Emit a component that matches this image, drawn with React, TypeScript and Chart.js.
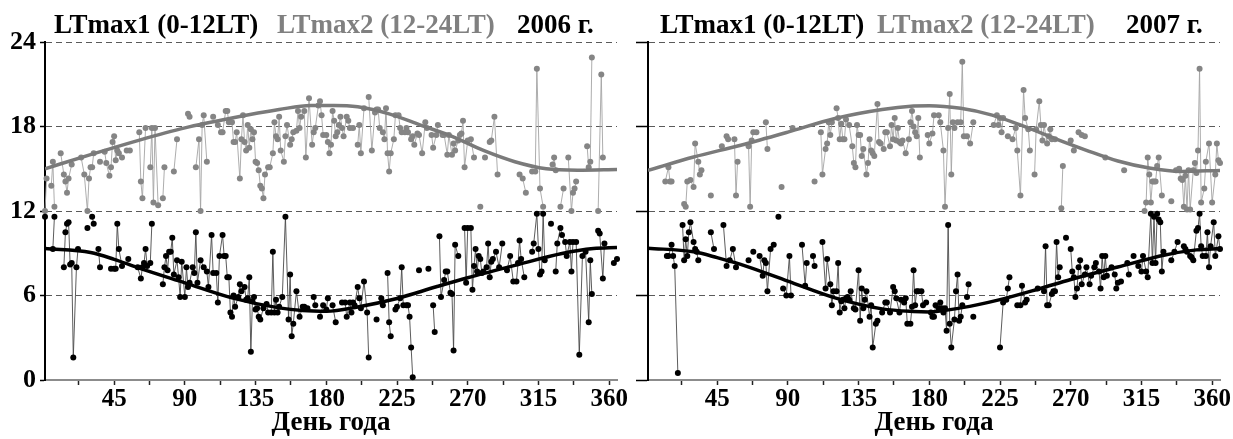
import React, { useEffect, useRef } from 'react';
import { Chart, registerables } from 'chart.js';

Chart.register(...registerables);

const SERIF = '"Liberation Serif", "Times New Roman", serif';

// ---------- axes ----------
const X_MIN = 1;
const X_MAX = 365;
const X_TICKS = [22.5, 45, 67.5, 90, 112.5, 135, 157.5, 180, 202.5, 225, 247.5, 270, 292.5, 315, 337.5, 360];
const X_TICK_LABELS = [45, 90, 135, 180, 225, 270, 315, 360];
const Y_TICKS = [0, 6, 12, 18, 24];
const X_TITLE = 'День года';

// ---------- titles ----------
const TITLE_1 = 'LTmax1 (0-12LT)';
const TITLE_2 = 'LTmax2 (12-24LT)';
const YEAR_2006 = '2006 г.';
const YEAR_2007 = '2007 г.';

// ---------- 2006: LTmax2 (12-24 LT), grey [day, hour] ----------
const G2006 = [
  [1,12.0],[2,14.3],[5,13.8],[6,15.5],[7,12.3],[11,16.1],[13,14.6],[14,14.1],[15,13.3],[16,14.3],[18,15.3],
  [24,15.8],[26,14.6],[28,12.0],[29,14.3],[30,15.1],[31,15.1],[32,16.1],[36,15.5],[39,16.2],[40,15.4],[42,14.5],
  [43,15.1],[44,16.9],[45,17.3],[46,15.6],[47,16.3],[48,16.1],[50,15.8],[53,16.3],[55,16.3],[61,17.6],[62,14.1],
  [63,12.9],[65,17.9],[68,15.1],[69,17.9],[70,12.6],[71,17.9],[73,12.4],[76,12.9],[77,15.1],[83,14.8],[85,17.1],
  [92,18.9],[93,18.7],[97,15.1],[99,17.1],[100,12.0],[101,18.1],[102,18.8],[104,15.5],[108,18.7],[111,18.1],
  [113,17.6],[114,17.6],[116,19.1],[117,19.1],[118,18.3],[120,18.3],[121,16.9],[122,16.9],[123,17.6],[125,14.3],
  [126,17.1],[127,18.8],[128,16.9],[129,16.3],[130,18.1],[131,16.5],[132,17.8],[133,17.1],[134,17.6],[135,15.5],
  [136,15.4],[137,14.9],[138,13.8],[139,13.6],[140,12.9],[141,14.6],[143,15.1],[144,15.1],[146,16.1],[147,18.3],
  [148,17.3],[149,17.1],[150,18.7],[151,16.3],[153,15.5],[154,17.3],[155,18.1],[157,16.7],[158,17.1],[159,17.6],
  [161,17.7],[162,19.1],[163,17.9],[164,18.7],[166,19.1],[167,15.8],[169,20.0],[171,16.7],[172,17.6],[173,17.9],
  [175,19.5],[176,19.8],[177,18.8],[178,17.4],[180,17.4],[181,16.9],[182,16.1],[183,16.7],[184,19.1],[185,18.4],
  [186,17.3],[187,17.6],[188,18.1],[189,18.7],[190,17.9],[191,17.3],[193,18.7],[194,18.4],[195,17.9],[197,17.9],
  [200,16.7],[201,18.1],[202,16.1],[204,19.3],[207,20.1],[209,16.3],[211,19.0],[212,19.2],[213,19.2],[214,17.9],
  [216,17.6],[217,17.1],[218,19.3],[219,16.1],[220,14.8],[221,16.1],[223,17.1],[224,18.8],[226,18.8],[227,17.9],
  [228,17.6],[230,17.6],[231,17.9],[232,17.6],[234,17.1],[235,17.3],[236,16.7],[238,17.5],[239,17.4],[241,16.1],
  [243,18.3],[244,17.9],[247,17.4],[248,16.5],[250,17.4],[251,18.1],[254,17.4],[255,17.4],[257,16.0],[258,17.4],
  [260,16.0],[261,16.8],[262,16.3],[264,17.0],[265,17.4],[266,17.5],[267,18.4],[268,15.1],[270,17.0],[272,17.1],
  [274,15.8],[278,12.3],[281,15.8],[284,16.9],[285,17.0],[287,18.7],[289,14.6],[303,14.6],[305,14.3],[307,13.3],
  [311,14.8],[313,14.8],[314,22.1],[316,13.6],[318,12.3],[324,15.3],[325,15.8],[326,14.9],[329,12.3],[331,13.6],
  [334,15.8],[336,12.0],[337,13.3],[338,13.6],[339,14.1],[346,16.6],[347,15.1],[348,15.5],[349,22.9],[353,12.0],
  [355,21.7],[356,15.8],
];

// ---------- 2006: LTmax1 (0-12 LT), black ----------
const B2006 = [
  [1,11.6],[6,9.3],[7,11.6],[13,8.0],[14,10.5],[15,11.1],[16,11.2],[17,8.2],[18,8.3],[19,1.6],[21,8.0],[22,9.3],
  [28,10.8],[31,11.6],[32,11.1],[35,9.3],[36,8.0],[43,7.9],[45,7.9],[46,7.9],[47,11.1],[48,9.3],[50,8.1],[54,8.6],
  [60,8.0],[62,7.2],[63,8.0],[64,8.3],[65,9.3],[66,8.1],[68,8.3],[69,11.1],[76,6.8],[77,8.0],[78,8.8],[79,7.8],
  [80,9.1],[81,9.1],[82,10.1],[83,7.5],[85,8.5],[86,7.3],[87,5.9],[88,8.4],[90,5.9],[91,8.0],[92,6.6],[93,6.9],
  [95,8.0],[96,7.6],[97,10.5],[98,6.9],[100,8.5],[102,8.0],[104,7.7],[105,6.6],[107,10.3],[108,7.6],[110,7.6],
  [111,5.5],[112,8.8],[114,10.3],[115,8.8],[116,8.8],[117,7.3],[118,7.3],[119,4.8],[120,4.5],[121,6.0],[122,5.2],
  [124,5.9],[125,6.8],[126,6.3],[128,6.6],[129,5.7],[130,5.8],[131,7.3],[132,2.0],[133,5.6],[134,5.9],[135,5.0],
  [136,5.1],[137,4.5],[138,4.3],[140,5.1],[142,5.4],[143,4.8],[145,4.8],[146,9.1],[147,4.8],[148,5.7],[149,4.8],
  [150,5.2],[152,5.9],[154,11.6],[156,4.3],[157,7.5],[158,3.1],[159,4.0],[161,6.3],[163,4.5],[165,5.2],[166,5.2],
  [168,5.1],[172,5.9],[173,5.3],[176,4.5],[178,5.3],[180,5.0],[181,5.8],[184,5.3],[186,4.1],[190,5.5],[192,5.5],
  [193,4.5],[195,5.5],[196,4.8],[197,5.5],[198,5.3],[200,6.6],[201,5.8],[202,5.1],[204,7.0],[206,4.8],[207,1.6],
  [212,4.3],[215,5.8],[216,5.3],[219,7.6],[220,4.1],[221,3.1],[224,5.0],[225,5.2],[227,5.8],[228,8.0],[229,5.3],
  [231,5.3],[232,5.3],[233,4.5],[234,2.3],[235,0.2],[239,7.8],[245,7.9],[248,5.3],[249,3.4],[252,10.2],[253,5.9],
  [255,7.1],[256,7.7],[257,7.7],[259,6.2],[260,6.1],[261,2.1],[262,9.6],[264,8.8],[268,10.8],[269,6.9],[270,10.8],
  [272,10.8],[273,6.4],[274,8.1],[275,9.3],[276,7.7],[277,8.8],[278,8.6],[279,7.6],[280,7.7],[282,8.0],[283,9.7],
  [284,7.3],[285,8.4],[286,8.6],[288,9.1],[290,8.0],[292,9.7],[295,7.8],[297,8.8],[299,7.0],[301,7.0],[302,8.3],
  [303,9.9],[304,8.6],[306,7.3],[311,9.1],[312,9.7],[314,11.8],[315,9.3],[316,7.5],[317,7.7],[318,11.8],[319,8.5],
  [323,11.1],[326,7.7],[327,9.7],[329,10.8],[330,10.3],[332,9.8],[333,8.8],[335,9.8],[336,7.7],[337,9.8],[339,9.8],
  [341,1.8],[343,8.8],[345,9.1],[347,4.1],[348,8.5],[349,6.1],[353,10.6],[354,10.4],[356,7.2],[357,9.7],[363,8.3],
  [365,8.6],
];

// ---------- 2007: LTmax2 (12-24 LT), grey ----------
const G2007 = [
  [12,14.1],[14,15.1],[15,14.1],[16,14.1],[24,12.5],[25,12.3],[26,14.1],[28,14.2],[30,13.7],[31,16.8],[33,15.5],
  [34,14.6],[35,14.9],[41,13.1],[48,16.6],[51,17.3],[52,17.1],[56,17.1],[57,13.1],[58,15.5],[65,16.6],[66,12.3],
  [67,17.0],[68,17.6],[70,17.6],[76,18.3],[77,16.4],[86,13.7],[93,17.9],[107,14.1],[111,17.6],[112,14.6],[114,16.4],
  [115,16.8],[116,18.3],[117,17.4],[118,18.3],[121,19.3],[122,18.6],[123,17.1],[124,18.2],[125,17.1],[126,17.1],
  [127,18.5],[129,18.1],[131,16.6],[132,15.4],[133,15.1],[134,18.1],[135,17.4],[136,17.4],[137,15.9],[138,16.4],
  [140,14.6],[141,15.4],[142,17.1],[143,16.3],[144,16.1],[145,15.9],[147,19.6],[148,16.9],[149,16.8],[151,16.4],
  [152,17.6],[153,17.6],[155,16.6],[156,18.1],[157,17.1],[158,18.6],[159,17.0],[160,17.9],[161,16.9],[162,16.8],
  [163,17.0],[165,16.1],[167,17.1],[168,18.3],[169,19.1],[170,18.0],[171,17.6],[172,17.3],[173,18.6],[174,15.8],
  [179,17.4],[180,16.8],[182,17.5],[183,18.8],[186,18.8],[187,18.3],[189,16.3],[190,12.3],[192,17.9],[193,20.3],
  [194,14.6],[195,18.3],[196,17.9],[198,18.3],[200,18.3],[201,22.6],[202,17.3],[204,17.3],[206,16.8],[208,18.3],
  [221,18.1],[223,18.8],[224,18.1],[225,18.6],[226,17.6],[227,18.6],[230,17.3],[233,17.1],[235,17.9],[236,16.3],
  [238,13.1],[240,20.6],[241,18.6],[243,17.8],[244,16.3],[247,14.6],[248,17.8],[250,19.8],[251,18.1],[252,17.0],
  [253,18.1],[255,16.8],[256,17.3],[257,17.8],[258,17.1],[260,17.1],[264,12.2],[265,15.2],[270,17.0],[272,16.3],
  [275,17.6],[277,17.4],[279,17.3],[292,15.8],[304,14.9],[317,12.0],[318,12.6],[319,15.8],[320,14.6],[321,12.6],
  [322,14.1],[323,14.1],[324,14.1],[325,15.2],[326,15.8],[328,13.1],[334,12.7],[337,14.9],[339,15.0],[340,14.3],
  [341,14.2],[342,12.3],[343,14.5],[344,12.1],[345,14.9],[346,12.1],[348,14.9],[349,15.4],[350,14.7],[351,16.3],
  [352,22.1],[353,12.6],[355,13.6],[356,15.5],[358,16.8],[360,12.6],[362,14.6],[363,16.8],[364,15.6],[365,15.4],
];

// ---------- 2007: LTmax1 (0-12 LT), black ----------
const B2007 = [
  [13,8.8],[14,8.8],[16,9.6],[17,8.8],[18,8.1],[20,0.5],[23,11.0],[24,8.5],[25,10.0],[26,8.8],[27,10.5],[28,11.2],
  [30,9.8],[31,9.3],[32,9.1],[33,8.5],[41,10.5],[43,9.3],[49,11.0],[51,8.1],[53,8.5],[55,9.3],[57,8.0],[65,8.5],
  [68,9.1],[72,8.8],[74,7.4],[75,8.5],[76,8.3],[77,6.3],[79,9.3],[81,9.6],[84,11.6],[87,6.5],[89,6.0],[91,8.8],
  [92,6.0],[99,9.6],[101,6.7],[102,8.3],[106,8.8],[107,8.1],[112,9.8],[114,6.5],[115,8.6],[117,6.8],[118,5.3],
  [119,6.3],[121,6.3],[122,8.3],[123,4.8],[124,5.6],[125,5.7],[126,5.1],[127,5.8],[128,5.9],[129,5.7],[130,6.3],
  [132,5.1],[133,5.0],[135,7.8],[136,4.2],[137,6.5],[138,5.1],[139,5.7],[140,6.3],[142,4.5],[143,5.3],[144,2.3],
  [146,4.0],[147,4.2],[150,4.8],[152,5.5],[153,5.5],[155,4.8],[157,6.6],[158,6.3],[159,5.8],[161,4.8],[162,5.7],
  [164,5.5],[165,5.8],[166,4.0],[168,4.0],[169,5.2],[170,7.8],[171,5.3],[172,6.3],[173,6.3],[175,6.3],[176,5.3],
  [178,5.5],[181,4.8],[182,4.5],[183,4.5],[184,5.3],[186,5.1],[187,5.5],[188,5.1],[189,4.8],[190,5.1],[191,3.5],
  [192,11.0],[193,4.0],[194,2.3],[196,4.3],[197,6.3],[198,7.5],[199,4.2],[200,4.5],[201,5.3],[204,5.9],[205,6.8],
  [208,4.5],[225,2.3],[227,5.5],[229,5.7],[230,6.5],[231,7.3],[236,5.3],[238,5.3],[239,6.7],[241,5.5],[242,5.7],
  [249,6.5],[253,6.3],[254,9.5],[255,5.3],[256,5.3],[258,6.1],[259,6.3],[260,6.3],[261,9.8],[262,7.3],[263,8.0],
  [267,10.1],[270,9.3],[271,7.7],[272,7.3],[273,5.9],[274,6.5],[275,8.0],[276,8.5],[277,6.8],[279,7.5],[280,8.0],
  [282,6.8],[283,7.4],[285,8.0],[286,8.3],[288,7.7],[289,6.5],[290,8.8],[291,7.3],[292,8.8],[293,7.4],[296,8.0],
  [298,7.5],[299,6.5],[300,6.9],[302,7.0],[306,8.3],[307,7.5],[310,8.8],[313,8.1],[315,7.7],[316,8.8],[318,7.7],
  [319,7.3],[321,11.8],[322,8.3],[323,11.6],[324,8.3],[325,11.8],[326,11.4],[327,11.2],[328,7.7],[329,9.1],
  [334,8.5],[336,9.1],[338,9.8],[342,9.5],[343,9.3],[344,9.1],[346,8.8],[347,8.7],[348,8.5],[350,10.6],[351,10.8],
  [352,11.8],[353,9.5],[354,8.8],[356,8.8],[357,10.5],[358,8.0],[359,9.5],[361,11.2],[362,8.8],[364,10.2],[365,9.3],
];

// ---------- fitted curves ----------
const FIT_G2006 = [[1,15.0],[30,16.0],[60,17.0],[90,17.9],[120,18.6],[150,19.2],[170,19.5],[185,19.5],[200,19.4],[220,18.9],[240,18.1],[260,17.3],[280,16.3],[300,15.5],[320,15.0],[340,14.9],[365,14.95]];
const FIT_B2006 = [[1,9.33],[30,9.05],[45,8.57],[60,7.98],[90,6.9],[120,5.83],[150,5.12],[165,4.93],[180,4.88],[200,5.19],[225,5.79],[250,6.62],[270,7.26],[300,8.14],[330,8.98],[350,9.33],[365,9.4]];
const FIT_G2007 = [[1,14.88],[30,15.83],[60,16.67],[90,17.6],[120,18.57],[150,19.21],[170,19.45],[180,19.48],[200,19.29],[220,18.81],[240,18.02],[260,17.14],[280,16.31],[300,15.55],[320,15.05],[340,14.81],[365,14.88]];
const FIT_B2007 = [[1,9.36],[30,9.1],[45,8.69],[60,8.21],[90,7.02],[120,5.83],[150,5.05],[170,4.86],[180,4.83],[200,5.12],[225,5.71],[250,6.48],[270,7.14],[300,8.02],[330,8.88],[350,9.24],[365,9.33]];

const MAX_GAP = 2;

function toPoints(pairs: number[][], breakGaps: boolean) {
  const sorted = [...pairs].sort((a, b) => a[0] - b[0]);
  const out: { x: number; y: number | null }[] = [];
  sorted.forEach((p, i) => {
    if (breakGaps && i > 0 && p[0] - sorted[i - 1][0] > MAX_GAP) {
      out.push({ x: (p[0] + sorted[i - 1][0]) / 2, y: null });
    }
    out.push({ x: p[0], y: p[1] });
  });
  return out;
}

type PanelProps = {
  grey: number[][];
  black: number[][];
  fitGrey: number[][];
  fitBlack: number[][];
  width: number;
  yAxisWidth: number;
  showYLabels: boolean;
  yTickLength: number;
};

function Panel(props: PanelProps) {
  const ref = useRef<HTMLCanvasElement | null>(null);
  useEffect(() => {
    if (!ref.current) return;
    const chart = new Chart(ref.current, {
      type: 'line',
      data: {
        datasets: [
          {
            label: 'fit LTmax1',
            data: toPoints(props.fitBlack, false),
            borderColor: '#000',
            borderWidth: 3.5,
            pointRadius: 0,
            cubicInterpolationMode: 'monotone',
            order: 0,
          },
          {
            label: 'fit LTmax2',
            data: toPoints(props.fitGrey, false),
            borderColor: '#7a7a7a',
            borderWidth: 3.5,
            pointRadius: 0,
            cubicInterpolationMode: 'monotone',
            order: 1,
          },
          {
            label: 'LTmax1',
            data: toPoints(props.black, true),
            borderColor: '#4a4a4a',
            borderWidth: 0.9,
            pointRadius: 3,
            pointBorderWidth: 0,
            pointBackgroundColor: '#000',
            spanGaps: false,
            clip: 6,
            order: 2,
          },
          {
            label: 'LTmax2',
            data: toPoints(props.grey, true),
            borderColor: '#a4a4a4',
            borderWidth: 0.9,
            pointRadius: 3,
            pointBorderWidth: 0,
            pointBackgroundColor: '#858585',
            spanGaps: false,
            clip: 6,
            order: 3,
          },
        ] as any,
      },
      options: {
        animation: false,
        responsive: false,
        events: [],
        layout: { padding: { top: 42, right: 13, left: 0, bottom: 0 } },
        plugins: {
          legend: { display: false },
          tooltip: { enabled: false },
          title: { display: false },
        },
        scales: {
          x: {
            type: 'linear',
            min: X_MIN,
            max: X_MAX,
            afterBuildTicks: (s: any) => {
              s.ticks = X_TICKS.map((v) => ({ value: v }));
            },
            afterFit: (s: any) => {
              s.height = 59;
            },
            ticks: {
              autoSkip: false,
              maxRotation: 0,
              padding: 0,
              color: '#000',
              font: { family: SERIF, size: 25, weight: 'bold' },
              callback: (v: any) => (X_TICK_LABELS.includes(Number(v)) ? String(v) : ''),
            },
            grid: {
              display: true,
              drawOnChartArea: false,
              drawTicks: true,
              tickLength: 5,
              tickColor: '#222',
              tickWidth: 1.5,
              color: '#222',
            },
            border: { display: true, color: '#8c8c8c', width: 2 },
            title: {
              display: true,
              text: X_TITLE,
              color: '#000',
              padding: 0,
              font: { family: SERIF, size: 27, weight: 'bold', lineHeight: 1.2 },
            },
          },
          y: {
            type: 'linear',
            min: 0,
            max: 24,
            afterBuildTicks: (s: any) => {
              s.ticks = Y_TICKS.map((v) => ({ value: v }));
            },
            afterFit: (s: any) => {
              s.width = props.yAxisWidth;
            },
            ticks: {
              display: props.showYLabels,
              padding: 4,
              color: '#000',
              font: { family: SERIF, size: 26, weight: 'bold' },
            },
            grid: {
              display: true,
              drawOnChartArea: true,
              drawTicks: true,
              tickLength: props.yTickLength,
              color: '#5a5a5a',
              lineWidth: 1,
              tickColor: '#000',
              tickWidth: 1.5,
            },
            border: { display: true, color: '#000', width: 2, dash: [6, 4] },
          },
        },
      } as any,
    });
    return () => chart.destroy();
  }, []);
  return <canvas ref={ref} width={props.width} height={439} style={{ display: 'block', width: props.width, height: 439 }} />;
}

const titleBase: React.CSSProperties = {
  position: 'absolute',
  top: 11,
  fontFamily: SERIF,
  fontWeight: 'bold',
  fontSize: 27,
  lineHeight: '27px',
  whiteSpace: 'nowrap',
};

export default function App() {
  return (
    <div style={{ position: 'absolute', left: 0, top: 0, width: 1233, height: 439, background: '#fff', overflow: 'hidden' }}>
      <div style={{ position: 'absolute', left: 0, top: 0 }}>
        <Panel grey={G2006} black={B2006} fitGrey={FIT_G2006} fitBlack={FIT_B2006} width={630} yAxisWidth={45} showYLabels={true} yTickLength={5} />
      </div>
      <div style={{ position: 'absolute', left: 630, top: 0 }}>
        <Panel grey={G2007} black={B2007} fitGrey={FIT_G2007} fitBlack={FIT_B2007} width={603} yAxisWidth={18} showYLabels={false} yTickLength={12} />
      </div>
      <span style={{ ...titleBase, left: 54, color: '#000' }}>{TITLE_1}</span>
      <span style={{ ...titleBase, left: 277, color: '#808080' }}>{TITLE_2}</span>
      <span style={{ ...titleBase, left: 517, color: '#000' }}>{YEAR_2006}</span>
      <span style={{ ...titleBase, left: 660, color: '#000' }}>{TITLE_1}</span>
      <span style={{ ...titleBase, left: 877, color: '#808080' }}>{TITLE_2}</span>
      <span style={{ ...titleBase, left: 1126, color: '#000' }}>{YEAR_2007}</span>
    </div>
  );
}
